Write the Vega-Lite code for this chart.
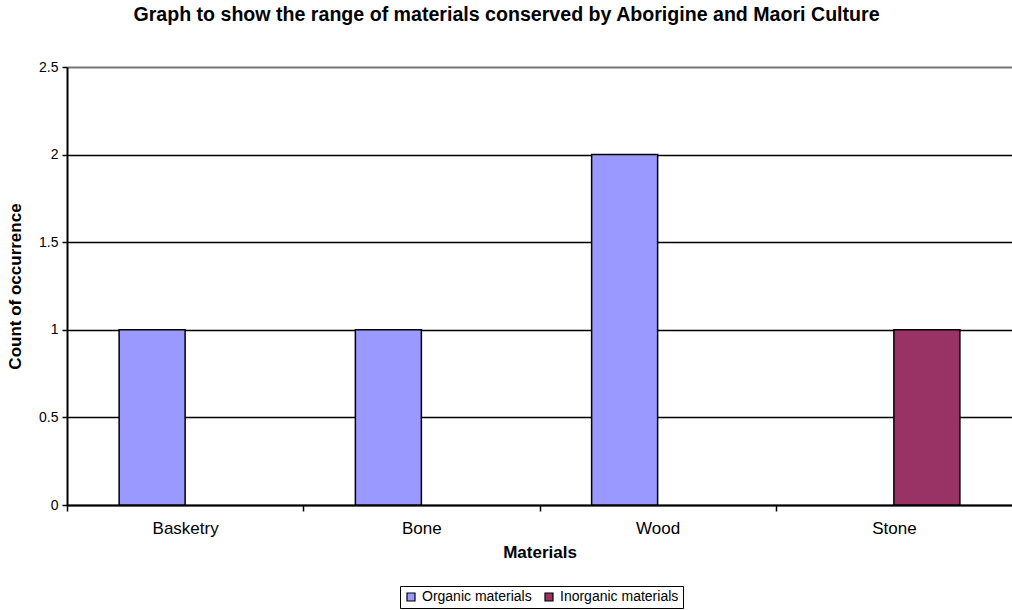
{
  "$schema": "https://vega.github.io/schema/vega-lite/v6.json",
  "width": 945,
  "height": 438,
  "autosize": "none",
  "padding": {"left": 67, "top": 67, "right": 0, "bottom": 105},
  "background": "white",
  "config": {
    "font": "Liberation Sans",
    "view": {"stroke": null}
  },
  "title": {
    "text": "Graph to show the range of materials conserved by Aborigine and Maori Culture",
    "fontSize": 19.6,
    "fontWeight": "bold",
    "font": "Liberation Sans",
    "color": "black",
    "anchor": "middle",
    "dx": -33,
    "offset": 34
  },
  "data": {
    "values": [
      {"material": "Basketry", "series": "Organic materials", "count": 1},
      {"material": "Bone", "series": "Organic materials", "count": 1},
      {"material": "Wood", "series": "Organic materials", "count": 2},
      {"material": "Stone", "series": "Inorganic materials", "count": 1}
    ]
  },
  "mark": {"type": "bar", "stroke": "black", "strokeWidth": 1.5},
  "encoding": {
    "x": {
      "field": "material",
      "type": "nominal",
      "sort": ["Basketry", "Bone", "Wood", "Stone"],
      "scale": {"paddingInner": 0.4413, "paddingOuter": 0.2206},
      "axis": {
        "title": "Materials",
        "titleFontSize": 17,
        "titleFontWeight": "bold",
        "titleColor": "black",
        "titlePadding": 8,
        "labelAngle": 0,
        "labelFontSize": 17,
        "labelColor": "black",
        "labelPadding": 9,
        "labelOffset": 118.125,
        "tickOffset": -118.125,
        "domainColor": "black",
        "domainWidth": 2,
        "tickColor": "black",
        "tickWidth": 1.5,
        "tickSize": 6,
        "grid": false
      }
    },
    "xOffset": {
      "field": "series",
      "type": "nominal",
      "scale": {"domain": ["Organic materials", "Inorganic materials"], "padding": 0}
    },
    "y": {
      "field": "count",
      "type": "quantitative",
      "scale": {"domain": [0, 2.5], "nice": false},
      "axis": {
        "title": "Count of occurrence",
        "titleFontSize": 17,
        "titleFontWeight": "bold",
        "titleColor": "black",
        "titlePadding": 14,
        "values": [0, 0.5, 1, 1.5, 2, 2.5],
        "format": "~g",
        "labelFontSize": 14,
        "labelColor": "black",
        "labelPadding": 4,
        "domainColor": "black",
        "domainWidth": 2,
        "tickColor": "black",
        "tickWidth": 1.5,
        "tickSize": 5,
        "grid": true,
        "gridColor": {"condition": {"test": "datum.value === 2.5", "value": "#777777"}, "value": "black"},
        "gridWidth": {"condition": {"test": "datum.value === 2.5", "value": 2}, "value": 1.3},
        "gridOpacity": 1
      }
    },
    "color": {
      "field": "series",
      "type": "nominal",
      "scale": {"domain": ["Organic materials", "Inorganic materials"], "range": ["#9999FF", "#993366"]},
      "legend": {
        "title": null,
        "orient": "none",
        "direction": "horizontal",
        "legendX": 333,
        "legendY": 519,
        "strokeColor": "black",
        "padding": 4,
        "symbolType": "square",
        "symbolSize": 64,
        "symbolStrokeColor": "black",
        "symbolStrokeWidth": 1.2,
        "symbolOpacity": 1,
        "labelFontSize": 14,
        "labelColor": "black",
        "labelOffset": 4,
        "columnPadding": 10
      }
    }
  }
}
